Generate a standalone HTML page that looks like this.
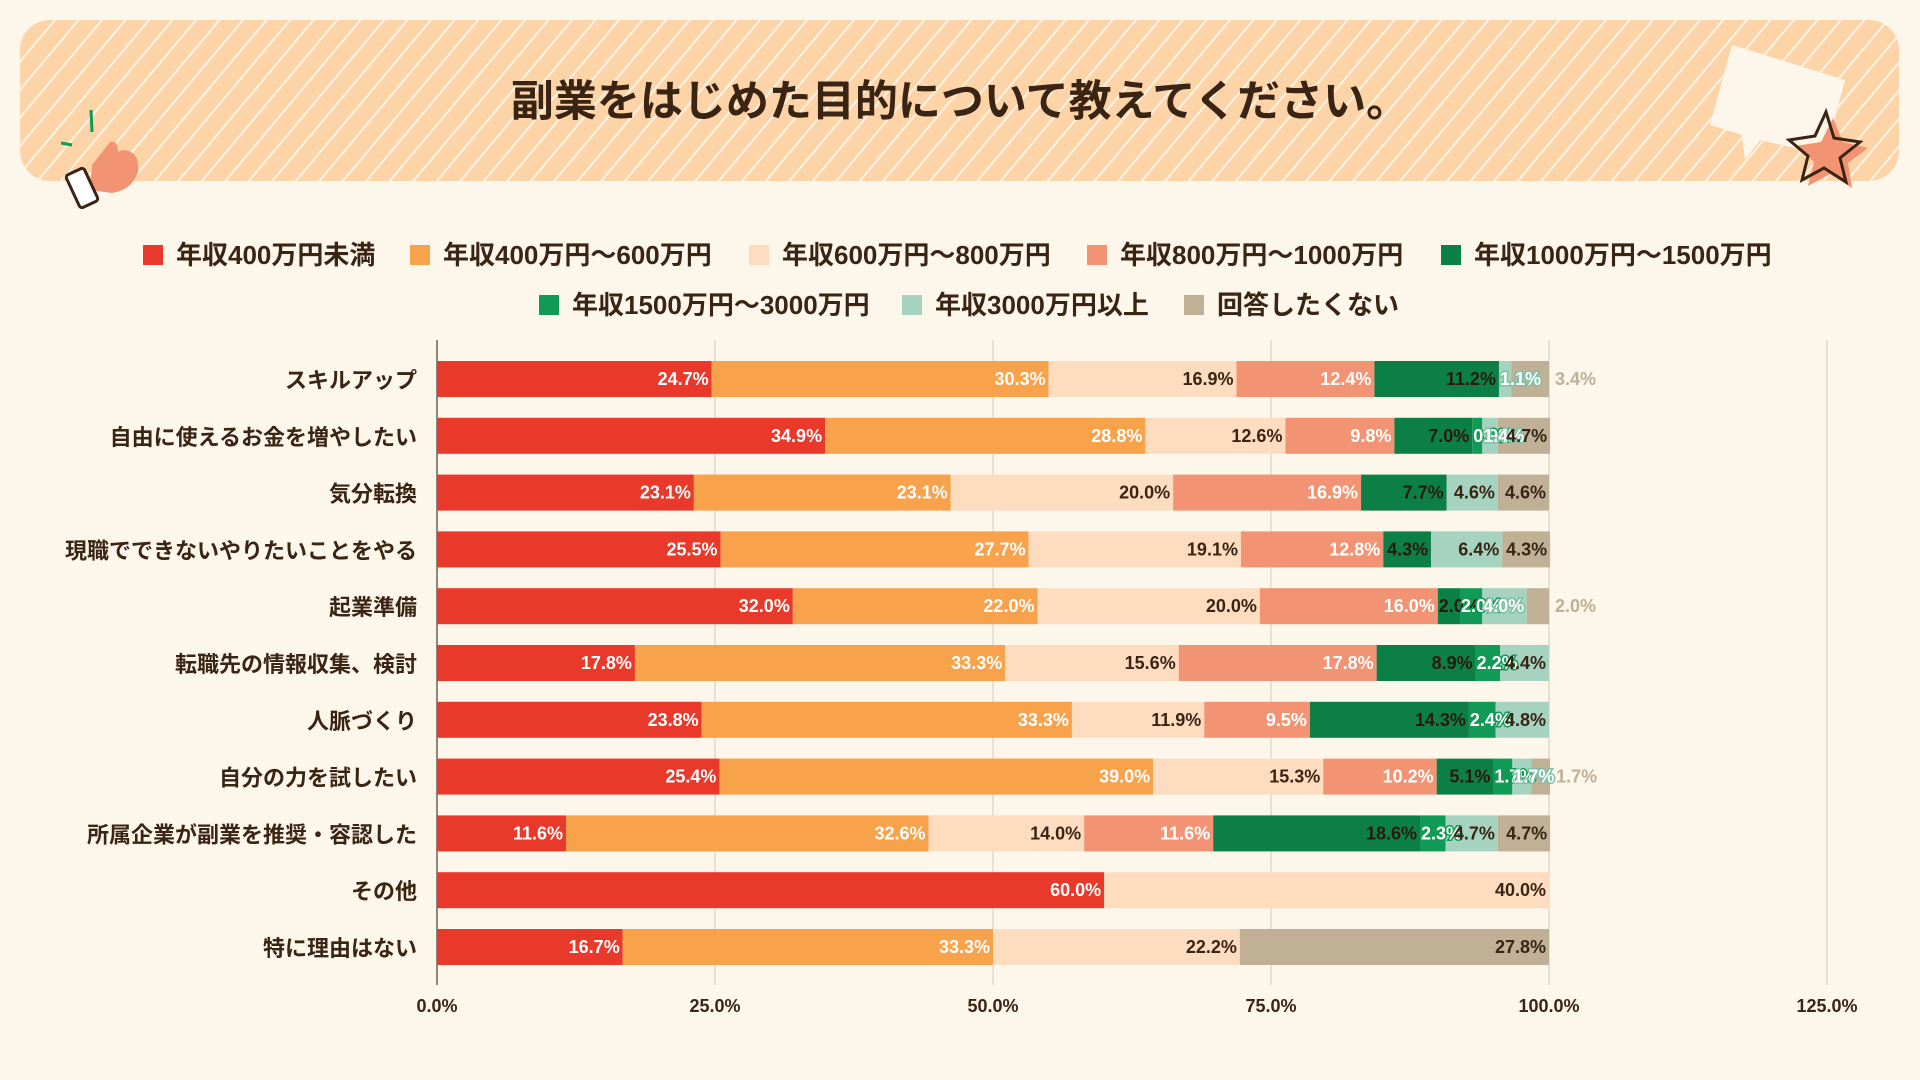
<!DOCTYPE html>
<html lang="ja"><head><meta charset="utf-8">
<style>
html,body{margin:0;padding:0;background:#FDF6EA;}
svg{display:block;font-family:"Liberation Sans","Noto Sans CJK JP",sans-serif;}
</style></head>
<body>
<svg id="chart" width="1920" height="1080" viewBox="0 0 1920 1080">
<defs>
<pattern id="stripes" width="18" height="18" patternUnits="userSpaceOnUse" patternTransform="rotate(40)">
<rect width="18" height="18" fill="#FDD3A8"/><rect width="2" height="18" fill="#FFF3E4"/>
</pattern>
</defs>
<rect width="1920" height="1080" fill="#FDF6EA"/>
<rect x="20" y="20" width="1879" height="161" rx="30" fill="url(#stripes)"/>
<text x="960" y="116" text-anchor="middle" font-size="43" font-weight="bold" fill="#3A2414">副業をはじめた目的について教えてください。</text>
<g>
<line x1="91" y1="110" x2="92" y2="132" stroke="#119A55" stroke-width="3"/>
<line x1="61" y1="143" x2="72" y2="145" stroke="#119A55" stroke-width="3"/>
<path d="M92 165 L110 142 Q118 140 118 152 L122 150 Q140 150 138 172 Q132 190 112 193 L90 190 Z" fill="#F29473"/>
<rect x="72" y="170" width="20" height="36" rx="3" fill="#fff" stroke="#3A2414" stroke-width="3" transform="rotate(-25 82 188)"/>
</g>
<g>
<path d="M1732 45 L1845 80 L1825 155 L1760 140 L1745 160 L1742 135 L1710 125 Z" fill="#FDF6EA"/>
</g>
<g>
<path d="M1833 118 L1843 142 L1868 148 L1848 163 L1852 188 L1830 174 L1808 186 L1814 162 L1795 146 L1821 142 Z" fill="#F29473"/>
<path d="M1826 112 L1834 138 L1860 142 L1840 158 L1846 182 L1824 168 L1802 180 L1808 156 L1789 140 L1815 136 Z" fill="none" stroke="#3A2414" stroke-width="3"/>
</g>
<g id="legend"></g>
<g id="grid"></g>
<g id="bars"></g>
<g id="labels"></g>
<g id="cats"></g>
<g id="ticks"></g>
</svg>
<script>
const categories = ["スキルアップ","自由に使えるお金を増やしたい","気分転換","現職でできないやりたいことをやる","起業準備","転職先の情報収集、検討","人脈づくり","自分の力を試したい","所属企業が副業を推奨・容認した","その他","特に理由はない"];
const seriesNames = ["年収400万円未満","年収400万円～600万円","年収600万円～800万円","年収800万円～1000万円","年収1000万円～1500万円","年収1500万円～3000万円","年収3000万円以上","回答したくない"];
const s1 = [24.7,34.9,23.1,25.5,32.0,17.8,23.8,25.4,11.6,60.0,16.7];
const s2 = [30.3,28.8,23.1,27.7,22.0,33.3,33.3,39.0,32.6,0,33.3];
const s3 = [16.9,12.6,20.0,19.1,20.0,15.6,11.9,15.3,14.0,40.0,22.2];
const s4 = [12.4,9.8,16.9,12.8,16.0,17.8,9.5,10.2,11.6,0,0];
const s5 = [11.2,7.0,7.7,4.3,2.0,8.9,14.3,5.1,18.6,0,0];
const s6 = [0,0.9,0,0,2.0,2.2,2.4,1.7,2.3,0,0];
const s7 = [1.1,1.4,4.6,6.4,4.0,4.4,4.8,1.7,4.7,0,0];
const s8 = [3.4,4.7,4.6,4.3,2.0,0,0,1.7,4.7,0,27.8];
const tickValues = [0,25,50,75,100,125];
const tickLabels = ["0.0%","25.0%","50.0%","75.0%","100.0%","125.0%"];

const series = [s1,s2,s3,s4,s5,s6,s7,s8];
const colors = ["#E8392A","#F9A24C","#FDDCBF","#F29473","#0C7F46","#119A55","#A5D3C0","#BFB096"];
const textColors = ["#fff","#fff","#3A2414","#fff","#2A1A0C","#2A1A0C","#3A2414","#3A2414"];
const NS = "http://www.w3.org/2000/svg";
const X0 = 437, XS = 11.12, Y0 = 379, YS = 56.8, BH = 36;
const x = v => X0 + v * XS;
const y = i => Y0 + i * YS;
function mk(tag, attrs, parent){const e=document.createElementNS(NS,tag);for(const k in attrs)e.setAttribute(k,attrs[k]);parent.appendChild(e);return e;}

// legend
const legend = document.getElementById('legend');
const legRows = [[0,1,2,3,4],[5,6,7]];
const legX = [[143,410,749,1087,1441],[539,902,1184]];
legRows.forEach((row, r) => {
  const ly = r === 0 ? 255 : 305;
  row.forEach((i, k) => {
    const cx = legX[r][k];
    const g = mk('g', {}, legend);
    
    
    mk('rect', {x: cx, y: ly-10, width: 20, height: 20, fill: colors[i]}, g);
    const t = mk('text', {x: cx+33, y: ly+9, 'font-size': 26, 'font-weight': 'bold', fill: '#3A2414'}, g);
    t.textContent = seriesNames[i];
  });
});

// grid
const grid = document.getElementById('grid');
const ticks = document.getElementById('ticks');
tickValues.forEach((v, i) => {
  const l = mk('line', {x1: x(v), x2: x(v), y1: 340, y2: 985, stroke: v===0 ? '#6b6259' : '#D9D2C5', 'stroke-width': v===0?1.5:1.2}, grid);
  
  
  const t = mk('text', {x: x(v), y: 1012, 'text-anchor': 'middle', 'font-size': 18, 'font-weight': 'bold', fill: '#3A2414'}, ticks);
  
  
  t.textContent = tickLabels[i];
});

// bars
const bars = document.getElementById('bars');
const labels = document.getElementById('labels');
const cats = document.getElementById('cats');
const ctx = document.createElement('canvas').getContext('2d');
ctx.font = 'bold 18px "Liberation Sans",sans-serif';
categories.forEach((c, i) => {
  const ct = mk('text', {x: 417, y: y(i)+9, 'text-anchor': 'end', 'font-size': 22, 'font-weight': 'bold', fill: '#3A2414'}, cats);
  
  
  ct.textContent = c;
  let acc = 0;
  let lastIdx = -1;
  series.forEach((s, k) => { if (s[i] > 0) lastIdx = k; });
  series.forEach((s, k) => {
    const v = s[i];
    if (!(v > 0)) return;
    const xa = x(acc), xb = x(acc + v);
    const r = mk('rect', {x: xa, y: y(i)-BH/2, width: xb-xa, height: BH, fill: colors[k]}, bars);
    
    
    const txt = v.toFixed(1) + '%';
    const tw = ctx.measureText(txt).width;
    let tx, anchor = 'end', fill = textColors[k], outline = null;
    if (xb - xa >= tw + 4) { tx = xb - 3; }
    else if (k === lastIdx) { tx = xb + 6; anchor = 'start'; fill = k===7 ? '#BFB096' : '#A5D3C0'; }
    else if (k === 4) { tx = xa + 1; anchor = 'start'; }
    else { tx = xa + 1; anchor = 'start'; fill = '#fff'; outline = k===6 ? '#7FBFA6' : (k===7 ? '#BFB096' : '#119A55'); }
    const t = mk('text', {x: tx, y: y(i)+6, 'text-anchor': anchor, 'font-size': 18, 'font-weight': 'bold', fill: fill}, labels);
    if (outline) { t.setAttribute('stroke', outline); t.setAttribute('stroke-width', '3'); t.setAttribute('paint-order', 'stroke'); }
    
    
    t.textContent = txt;
    acc += v;
  });
});
</script>
</body></html>
